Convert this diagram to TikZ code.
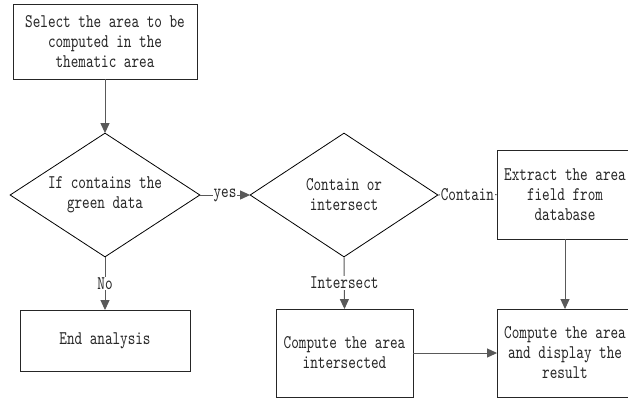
\documentclass[tikz,border=0pt]{standalone}
\usepackage{fontspec}
\newfontfamily\reffont{lmmono10-regular.otf}[FakeStretch=0.75]
\usetikzlibrary{arrows.meta,shapes.geometric}
\begin{document}
\begin{tikzpicture}[x=1pt,y=-1pt,
  every node/.style={font=\reffont\fontsize{19.3}{20}\selectfont,text=black!85},
  procbox/.style={draw=black!85,line width=0.9pt,rectangle,align=center,inner sep=0pt},
  decbox/.style={draw=black,line width=0.8pt,diamond,shape aspect=1.5,align=center,inner sep=0pt},
  conn/.style={draw=black!65,line width=1pt},
  arr/.style={conn,-{Triangle[length=10pt,width=9pt]},shorten >=-0.5pt},
  lbl/.style={fill=white,inner sep=1pt}
]
\useasboundingbox (0,0) rectangle (628,399);
\clip (0,0) rectangle (628,399);
\fill[white] (0,0) rectangle (628,399);

\node[procbox,minimum width=184pt,minimum height=75pt] (b1) at (105,41.5)
  {Select the area to be\\computed in the\\thematic area};
\node[decbox,minimum width=190pt,minimum height=124pt] (d1) at (105,195)
  {If contains the\\green data};
\node[decbox,minimum width=188pt,minimum height=124pt] (d2) at (344,195)
  {Contain or\\intersect};
\node[procbox,minimum width=136pt,minimum height=89pt] (b3) at (565,194.5)
  {Extract the area\\field from\\database};
\node[procbox,minimum width=170pt,minimum height=61pt] (b2) at (105,340.5)
  {End analysis};
\node[procbox,minimum width=137pt,minimum height=88pt] (b4) at (344.5,353)
  {Compute the area\\intersected};
\node[procbox,minimum width=136pt,minimum height=88pt] (b5) at (565,353)
  {Compute the area\\and display the\\result};

\draw[arr] (b1.south) -- (d1.north);
\draw[arr] (d1.east) -- node[lbl]{yes} (d2.west);
\draw[conn] (d2.east) -- node[lbl]{Contain} (b3.west);
\draw[arr] (d1.south) -- node[lbl]{No} (b2.north);
\draw[arr] (d2.south) -- node[lbl]{Intersect} (b4.north);
\draw[arr] (b3.south) -- (b5.north);
\draw[arr] (b4.east) -- (b5.west);
\end{tikzpicture}
\end{document}
